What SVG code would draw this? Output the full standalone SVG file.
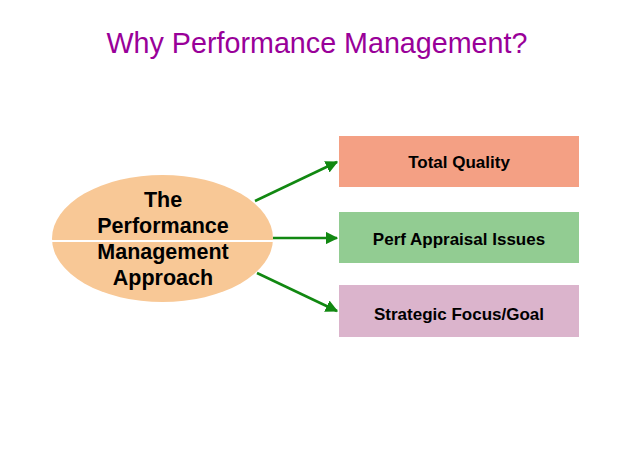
<svg xmlns="http://www.w3.org/2000/svg" width="642" height="449" viewBox="0 0 642 449">
<style>
.t{font-family:"Liberation Sans",Arial,sans-serif;font-weight:bold;fill:#000;text-anchor:middle}
.box{font-size:17px}
.ell{font-size:21.5px}
.c{stroke:#118811;stroke-width:2.5;fill:none;marker-end:url(#ah)}
</style>
<defs>
<marker id="ah" viewBox="0 0 10 10" refX="9" refY="5" markerWidth="5" markerHeight="5" orient="auto" markerUnits="strokeWidth">
<path d="M0,0 L10,5 L0,10 Z" fill="#118811"/>
</marker>
</defs>
<rect width="642" height="449" fill="#fff"/>
<text x="317" y="53" font-family="'Liberation Sans',Arial,sans-serif" font-size="28.7" fill="#990099" text-anchor="middle">Why Performance Management?</text>
<g id="connectors">
<line class="c" x1="255" y1="201" x2="337" y2="162"/>
<line class="c" x1="273" y1="238" x2="337" y2="238"/>
<line class="c" x1="257" y1="273" x2="337" y2="311"/>
</g>
<g id="approach">
<ellipse cx="162.5" cy="238.5" rx="110.5" ry="63.5" fill="#F8C896"/>
<line x1="52" y1="241" x2="273" y2="241" stroke="#fff" stroke-width="2"/>
<text class="t ell" x="163" y="207">The</text>
<text class="t ell" x="163" y="233">Performance</text>
<text class="t ell" x="163" y="259">Management</text>
<text class="t ell" x="163" y="285">Approach</text>
</g>
<g id="total-quality">
<rect x="339" y="136" width="240" height="51" fill="#F4A084"/>
<text class="t box" x="459" y="168">Total Quality</text>
</g>
<g id="perf-appraisal">
<rect x="339" y="212" width="240" height="51" fill="#92CC92"/>
<text class="t box" x="459" y="245">Perf Appraisal Issues</text>
</g>
<g id="strategic-focus">
<rect x="339" y="285" width="240" height="52" fill="#DBB4CC"/>
<text class="t box" x="459" y="320">Strategic Focus/Goal</text>
</g>
</svg>
